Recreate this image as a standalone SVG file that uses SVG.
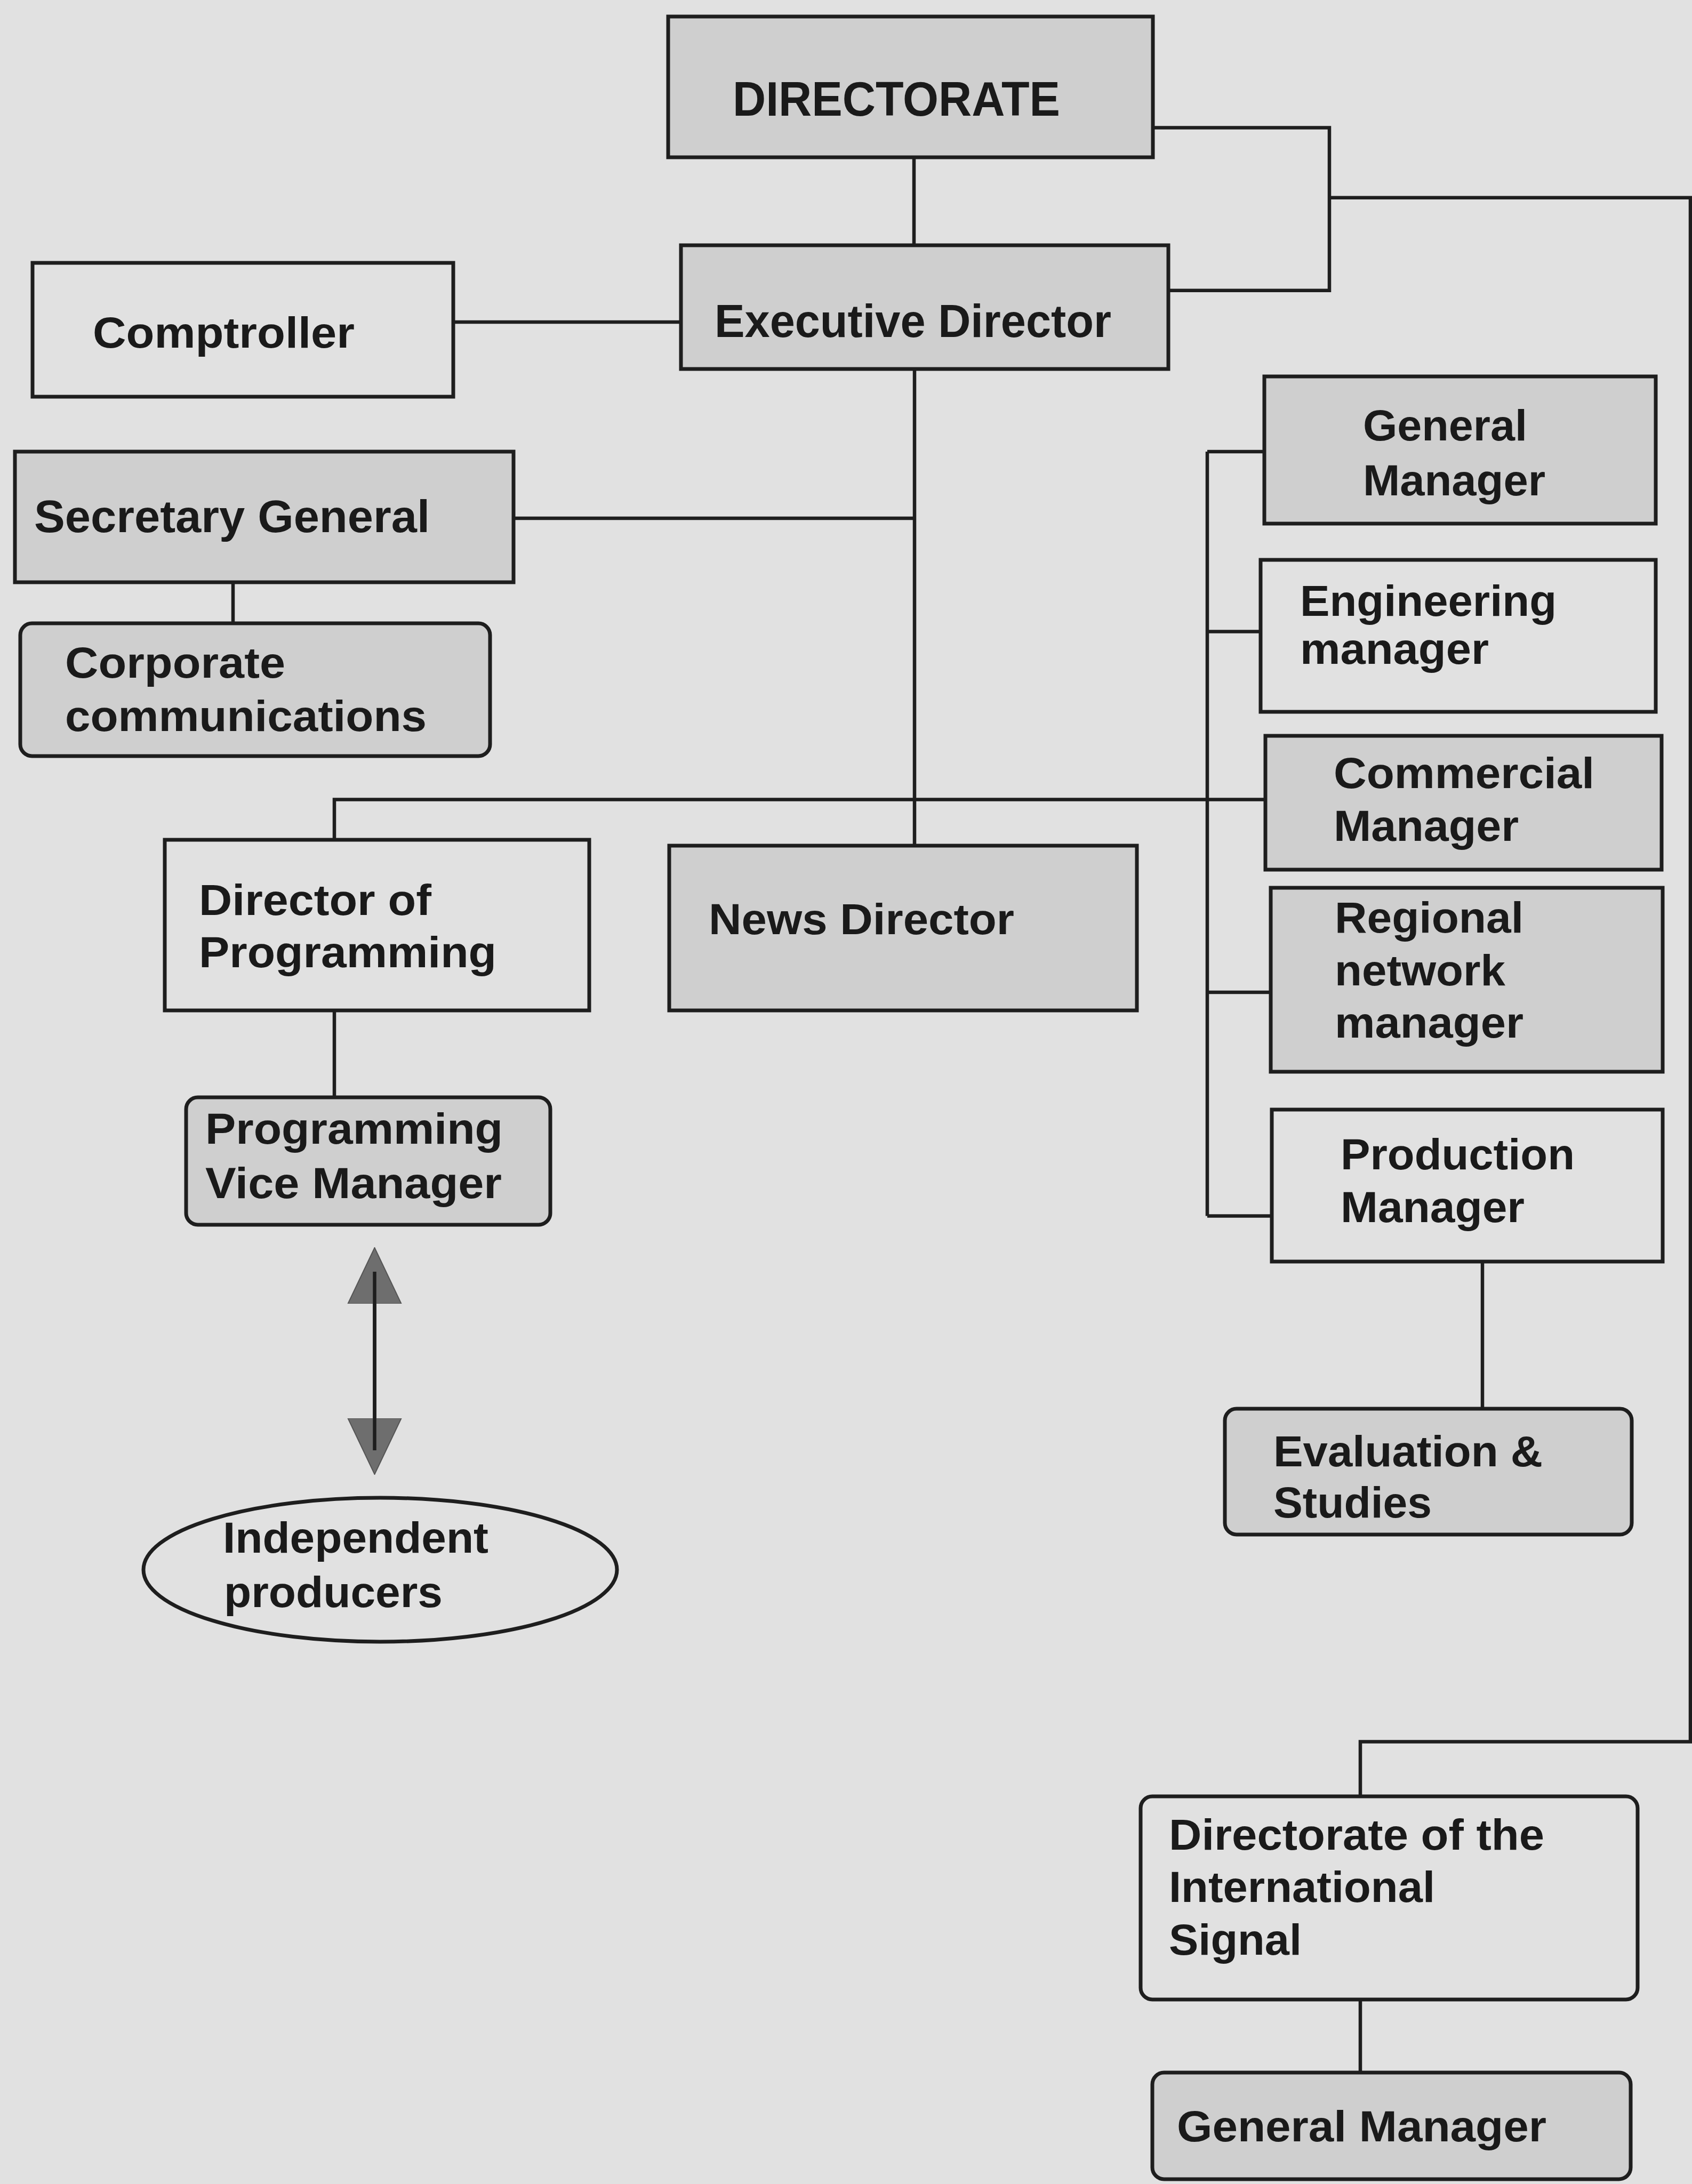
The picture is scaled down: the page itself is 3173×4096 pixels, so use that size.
<svg xmlns="http://www.w3.org/2000/svg" width="3173" height="4096" viewBox="0 0 3173 4096">
<style>
.bx{fill:none;stroke:#1e1e1e;stroke-width:7}
.sh{fill:#cfcfcf}
.cn{fill:none;stroke:#1e1e1e;stroke-width:6.5}
text{font-family:"Liberation Sans",Arial,sans-serif;font-weight:bold;fill:#1a1a1a}
.f{font-size:82px}
.big{font-size:90px}
</style>
<defs>
<marker id="head" markerUnits="userSpaceOnUse" viewBox="0 -52 106 104" markerWidth="106" markerHeight="104" refX="60" refY="0" orient="auto-start-reverse">
<path d="M0,-50 L105,0 L0,50 Z" fill="#6e6e6e" stroke="#555" stroke-width="2"/>
</marker>
</defs>
<rect x="0" y="0" width="3173" height="4096" fill="#e1e1e1"/>

<g id="connectors">
<path class="cn" d="M1714 295 V460"/>
<path class="cn" d="M2162 239.5 H2493 V544.8 H2191"/>
<path class="cn" d="M2493 370.8 H3170 V3266.5 H2551 V3369"/>
<path class="cn" d="M850 604 H1277"/>
<path class="cn" d="M963 972 H1715"/>
<path class="cn" d="M437 1092 V1169"/>
<path class="cn" d="M1715 692 V1586"/>
<path class="cn" d="M627 1575 V1499.5 H2373"/>
<path class="cn" d="M627 1895 V2058"/>
<path class="cn" d="M2264 847 V2280.6"/>
<path class="cn" d="M2264 847 H2371"/>
<path class="cn" d="M2264 1184.6 H2364"/>
<path class="cn" d="M2264 1861 H2383"/>
<path class="cn" d="M2264 2280.6 H2385"/>
<path class="cn" d="M2780 2366 V2642"/>
<path class="cn" d="M2551 3750 V3887"/>
<path class="cn" d="M702.5 2385 V2720" marker-start="url(#head)" marker-end="url(#head)"/>
<path class="cn" d="M702.5 2385 V2720"/>
</g>

<g id="directorate">
<rect class="bx sh" x="1253" y="31" width="909" height="264"/>
<text class="big" x="1374" y="217" textLength="614" lengthAdjust="spacingAndGlyphs">DIRECTORATE</text>
</g>
<g id="executive-director">
<rect class="bx sh" x="1277" y="460" width="914" height="232"/>
<text class="f" x="1340" y="632" font-size="88" textLength="744" lengthAdjust="spacingAndGlyphs" style="font-size:88px">Executive Director</text>
</g>
<g id="comptroller">
<rect class="bx" x="61" y="493" width="789" height="251"/>
<text class="f" x="174" y="652" textLength="491" lengthAdjust="spacingAndGlyphs">Comptroller</text>
</g>
<g id="secretary-general">
<rect class="bx sh" x="28" y="847" width="935" height="245"/>
<text x="64" y="998" style="font-size:86px" textLength="742" lengthAdjust="spacingAndGlyphs">Secretary General</text>
</g>
<g id="corporate-communications">
<rect class="bx sh" x="38" y="1169" width="881" height="249" rx="22"/>
<text class="f" x="122" y="1271" textLength="413" lengthAdjust="spacingAndGlyphs">Corporate</text>
<text class="f" x="122" y="1371" textLength="678" lengthAdjust="spacingAndGlyphs">communications</text>
</g>
<g id="director-of-programming">
<rect class="bx" x="309" y="1575" width="796" height="320"/>
<text class="f" x="373" y="1716" textLength="436" lengthAdjust="spacingAndGlyphs">Director of</text>
<text class="f" x="373" y="1814" textLength="558" lengthAdjust="spacingAndGlyphs">Programming</text>
</g>
<g id="news-director">
<rect class="bx sh" x="1255" y="1586" width="877" height="309"/>
<text class="f" x="1329" y="1752" textLength="573" lengthAdjust="spacingAndGlyphs">News Director</text>
</g>
<g id="programming-vice-manager">
<rect class="bx sh" x="349" y="2058" width="683" height="239" rx="22"/>
<text class="f" x="385" y="2145" textLength="558" lengthAdjust="spacingAndGlyphs">Programming</text>
<text class="f" x="385" y="2247" textLength="556" lengthAdjust="spacingAndGlyphs">Vice Manager</text>
</g>
<g id="independent-producers">
<ellipse class="bx" cx="713" cy="2944" rx="444" ry="135"/>
<text class="f" x="418" y="2912" textLength="498" lengthAdjust="spacingAndGlyphs">Independent</text>
<text class="f" x="420" y="3014" textLength="410" lengthAdjust="spacingAndGlyphs">producers</text>
</g>
<g id="general-manager">
<rect class="bx sh" x="2371" y="706" width="734" height="276"/>
<text class="f" x="2556" y="826" textLength="308" lengthAdjust="spacingAndGlyphs">General</text>
<text class="f" x="2556" y="929" textLength="342" lengthAdjust="spacingAndGlyphs">Manager</text>
</g>
<g id="engineering-manager">
<rect class="bx" x="2364" y="1050" width="741" height="285"/>
<text class="f" x="2438" y="1155" textLength="481" lengthAdjust="spacingAndGlyphs">Engineering</text>
<text class="f" x="2438" y="1245" textLength="354" lengthAdjust="spacingAndGlyphs">manager</text>
</g>
<g id="commercial-manager">
<rect class="bx sh" x="2373" y="1380" width="743" height="251"/>
<text class="f" x="2501" y="1478" textLength="489" lengthAdjust="spacingAndGlyphs">Commercial</text>
<text class="f" x="2501" y="1577" textLength="347" lengthAdjust="spacingAndGlyphs">Manager</text>
</g>
<g id="regional-network-manager">
<rect class="bx sh" x="2383" y="1665" width="735" height="345"/>
<text class="f" x="2503" y="1749" textLength="354" lengthAdjust="spacingAndGlyphs">Regional</text>
<text class="f" x="2503" y="1848" textLength="320" lengthAdjust="spacingAndGlyphs">network</text>
<text class="f" x="2503" y="1946" textLength="354" lengthAdjust="spacingAndGlyphs">manager</text>
</g>
<g id="production-manager">
<rect class="bx" x="2385" y="2081" width="733" height="285"/>
<text class="f" x="2514" y="2193" textLength="439" lengthAdjust="spacingAndGlyphs">Production</text>
<text class="f" x="2514" y="2292" textLength="345" lengthAdjust="spacingAndGlyphs">Manager</text>
</g>
<g id="evaluation-studies">
<rect class="bx sh" x="2297" y="2642" width="763" height="236" rx="22"/>
<text class="f" x="2388" y="2750" textLength="505" lengthAdjust="spacingAndGlyphs">Evaluation &amp;</text>
<text class="f" x="2388" y="2846" textLength="297" lengthAdjust="spacingAndGlyphs">Studies</text>
</g>
<g id="directorate-international-signal">
<rect class="bx" x="2139" y="3369" width="932" height="381" rx="22"/>
<text class="f" x="2192" y="3469" textLength="704" lengthAdjust="spacingAndGlyphs">Directorate of the</text>
<text class="f" x="2192" y="3567" textLength="499" lengthAdjust="spacingAndGlyphs">International</text>
<text class="f" x="2192" y="3666" textLength="249" lengthAdjust="spacingAndGlyphs">Signal</text>
</g>
<g id="general-manager-international">
<rect class="bx sh" x="2161" y="3887" width="897" height="200" rx="22"/>
<text class="f" x="2207" y="4016" textLength="693" lengthAdjust="spacingAndGlyphs">General Manager</text>
</g>
</svg>
